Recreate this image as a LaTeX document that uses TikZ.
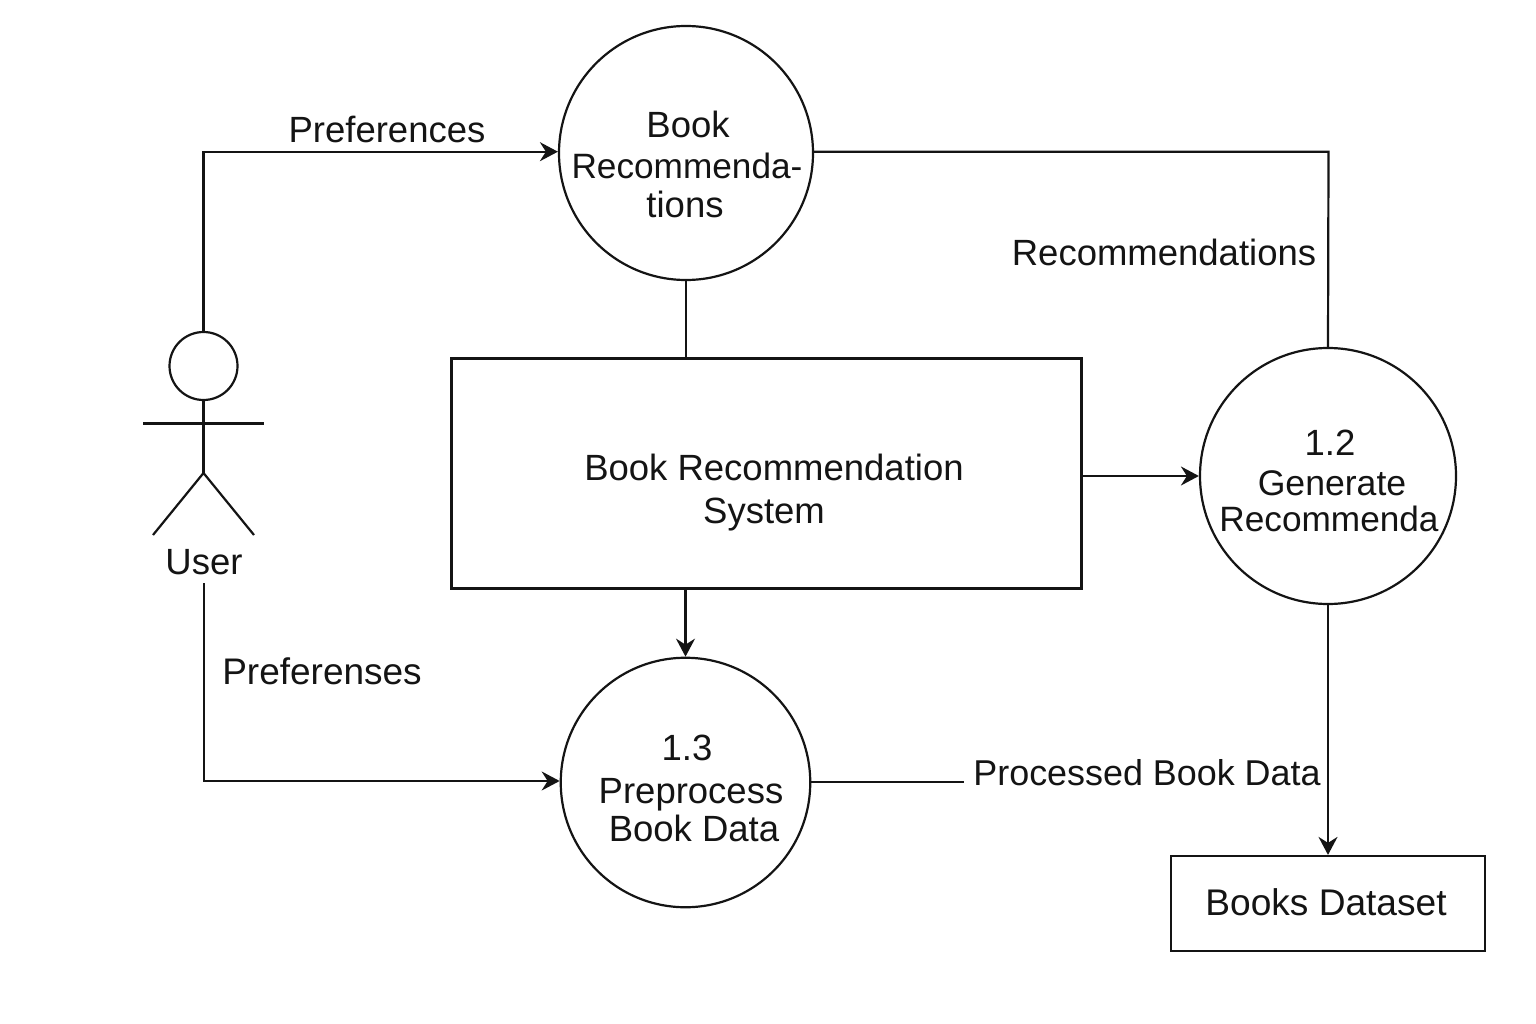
\documentclass[tikz,border=0pt]{standalone}
\usepackage{fontspec}
\setmainfont{Liberation Sans}
\usetikzlibrary{arrows.meta}
\tikzset{
 x=1pt,y=-1pt,
 ln/.style={draw=black!92,line width=2.2pt},
 arr/.style={ln,-{Stealth[length=18pt,width=19pt,inset=6pt]}},
 lab/.style={font=\fontsize{36.5}{40}\selectfont,text=black!92,inner sep=0pt,align=center,text height=24.6pt,text depth=0pt},
 labn/.style={lab,font=\fontsize{35.2}{40}\selectfont},
 labw/.style={lab,font=\fontsize{37}{40}\selectfont},
 proc/.style={circle,ln,fill=white,inner sep=0pt},
 box/.style={rectangle,ln,fill=white,inner sep=0pt}
}
\begin{document}
\begin{tikzpicture}
\useasboundingbox[fill=white] (0,0) rectangle (1536,1024);
\node[proc,minimum size=254pt] (p1) at (686,153) {};
\node[proc,minimum size=256pt] (p2) at (1328,476) {};
\node[proc,minimum size=249.5pt] (p3) at (685.5,782.5) {};
\node[box,minimum width=630pt,minimum height=230pt] (sys) at (766.5,473.5) {};
\node[box,minimum width=314pt,minimum height=95pt] (ds) at (1328,903.5) {};
\node[circle,ln,minimum size=68pt,inner sep=0pt] (head) at (203.5,366) {};
\coordinate (neck) at (203.5,473);
\coordinate (armL) at (143,423.5);
\coordinate (armR) at (264,423.5);
\coordinate (legL) at (153,535);
\coordinate (legR) at (254,535);
\draw[ln] (head.south)--(neck);
\draw[ln] (armL)--(armR);
\draw[ln] (legL)--(neck)--(legR);
\node[lab] (user) at (204,562) {User};
\coordinate (c1) at (203.5,151.7);
\draw[arr] (head.north)--(c1)--(c1-|p1.west);
\coordinate (c2) at (204,781);
\coordinate (ustart) at (204,583);
\draw[arr] (ustart)--(c2)--(c2-|p3.west);
\coordinate (c3) at (1328.5,151.7);
\draw[ln] (c3-|p1.east)--(c3)--(p2.north);
\draw[ln] (p1.south)--(p1.south|-sys.north);
\draw[arr] (sys.south-|p3.north)--(p3.north);
\draw[arr] (sys.east|-p2.west)--(p2.west);
\draw[arr] (p2.south)--(p2.south|-ds.north);
\coordinate (c4) at (964,782);
\draw[ln] (c4-|p3.east)--(c4);
\node[lab] (l1) at (387,130) {Preferences};
\node[labw] (l2) at (322,672) {Preferenses};
\node[lab] (l3) at (1164,253) {Recommendations};
\node[lab,font=\fontsize{35.9}{40}\selectfont] (l4) at (1147,773) {Processed Book Data};
\node[lab] at (688,125) {Book};
\node[labn] at (687,166) {Recommenda-};
\node[lab] at (685,205) {tions};
\node[lab] at (774,468) {Book Recommendation};
\node[lab] at (764,511) {System};
\node[lab] at (1330,443) {1.2};
\node[lab,font=\fontsize{35.6}{40}\selectfont] at (1332,483) {Generate};
\node[labn] at (1329,519) {Recommenda};
\node[lab] at (687,748) {1.3};
\node[lab] at (691,791) {Preprocess};
\node[lab] at (694,829) {Book Data};
\node[lab,font=\fontsize{37.1}{40}\selectfont] at (1326,903) {Books Dataset};
\end{tikzpicture}
\end{document}
